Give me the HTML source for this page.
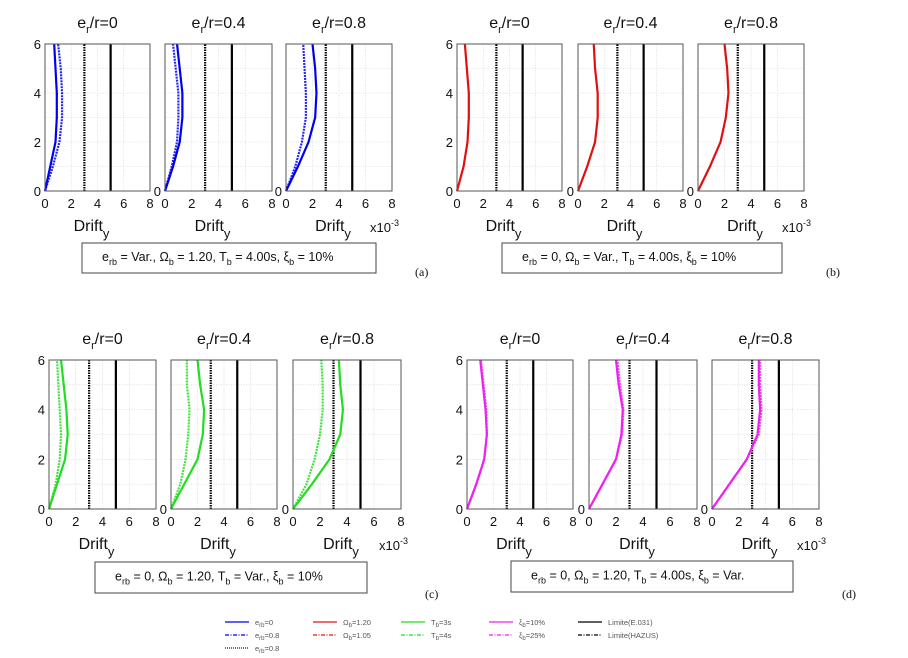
<!DOCTYPE html>
<html><head><meta charset="utf-8"><style>
body{margin:0;background:#fff;}
svg{display:block;font-family:"Liberation Sans",Arial,sans-serif;}
</style></head><body>
<svg id="fig" width="908" height="658" viewBox="0 0 908 658"></svg>
<script>
// data (drift x1e-3) at storey levels
const levels=[0,1,2,3,4,5,6];
const xTicks=[0,2,4,6,8];
const yTicks=[0,2,4,6];
const titles=["e_r/r=0","e_r/r=0.4","e_r/r=0.8"];
const limitE031=5;
const limitHAZUS=3;
const aSolid=[[0,0.4,0.8,0.9,0.9,0.8,0.7],[0,0.6,1.1,1.3,1.3,1.1,0.9],[0,0.9,1.7,2.2,2.3,2.2,2.0]];
const aDash=[[0,0.6,1.1,1.3,1.3,1.2,1.0],[0,0.5,0.9,1.0,1.0,0.8,0.6],[0,0.7,1.2,1.5,1.5,1.4,1.3]];
const bSolid=[[0,0.5,0.8,0.9,0.9,0.75,0.6],[0,0.7,1.3,1.5,1.5,1.3,1.2],[0,0.9,1.7,2.1,2.3,2.2,2.0]];
const cSolid=[[0,0.6,1.2,1.4,1.3,1.1,0.9],[0,1.0,2.0,2.4,2.5,2.2,2.0],[0,1.4,2.7,3.5,3.7,3.5,3.4]];
const cDash=[[0,0.5,0.8,0.9,0.8,0.7,0.6],[0,0.7,1.1,1.3,1.4,1.2,1.2],[0,1.0,1.6,2.0,2.2,2.2,2.1]];
const dSolid=[[0,0.7,1.3,1.5,1.4,1.2,1.0],[0,1.0,2.0,2.4,2.5,2.2,2.0],[0,1.3,2.6,3.4,3.6,3.5,3.5]];
const dDash=[[0,0.7,1.3,1.5,1.45,1.25,1.05],[0,1.0,2.0,2.45,2.55,2.3,2.1],[0,1.3,2.6,3.5,3.7,3.6,3.6]];

const NS="http://www.w3.org/2000/svg";
const svg=document.getElementById('fig');
function mk(tag,attrs,parent){const e=document.createElementNS(NS,tag);for(const k in attrs)e.setAttribute(k,attrs[k]);(parent||svg).appendChild(e);return e;}

const panels=[
 {id:'a',axX:[[45,150],[165,272],[286,392]],y0:191,y1:44,color:'#0000ee',solid:aSolid,dash:aDash,dashStyle:'2,1',
  box:[82,243,294,30],label:[415,276],caption:['e','rb',' = Var., Ω','b',' = 1.20, T','b',' = 4.00s, ξ','b',' = 10%']},
 {id:'b',axX:[[457,562],[578,683],[698,804]],y0:191,y1:44,color:'#e01010',solid:bSolid,dash:null,
  box:[502,243,280,30],label:[826,276],caption:['e','rb',' = 0, Ω','b',' = Var., T','b',' = 4.00s, ξ','b',' = 10%']},
 {id:'c',axX:[[49,156],[171,277],[293,401]],y0:509,y1:360,color:'#22dd22',solid:cSolid,dash:cDash,dashStyle:'2,1',
  box:[95,562,272,31],label:[425,598],caption:['e','rb',' = 0, Ω','b',' = 1.20, T','b',' = Var., ξ','b',' = 10%']},
 {id:'d',axX:[[467,573],[589,697],[712,819]],y0:509,y1:360,color:'#ee22ee',solid:dSolid,dash:dDash,dashStyle:'2,1',
  box:[511,561,282,31],label:[842,598],caption:['e','rb',' = 0, Ω','b',' = 1.20, T','b',' = 4.00s, ξ','b',' = Var.']}
];

panels.forEach(p=>{
 const g=mk('g',{});
 
 
 p.axX.forEach((ax,i)=>{
  const [xa,xb]=ax;
  const sx=v=>xa+(xb-xa)*v/8;
  const sy=v=>p.y0+(p.y1-p.y0)*v/6;
  const sg=mk('g',{},g);
  
  
  [2,4,6].forEach(v=>mk('line',{x1:sx(v),x2:sx(v),y1:sy(0),y2:sy(6),stroke:'#ccc','stroke-width':0.6,'stroke-dasharray':'1,1.5'},sg));
  [1,2,3,4,5].forEach(v=>mk('line',{x1:sx(0),x2:sx(8),y1:sy(v),y2:sy(v),stroke:'#ccc','stroke-width':0.6,'stroke-dasharray':'1,1.5'},sg));
  const lh=mk('line',{x1:sx(limitHAZUS),x2:sx(limitHAZUS),y1:sy(0),y2:sy(6),stroke:'#000','stroke-width':2.2,'stroke-dasharray':'1.5,1'},sg);
  
  const le=mk('line',{x1:sx(limitE031),x2:sx(limitE031),y1:sy(0),y2:sy(6),stroke:'#000','stroke-width':2.2},sg);
  
  if(p.dash){
   const pts=levels.map((l,k)=>sx(p.dash[i][k])+','+sy(l)).join(' ');
   const pl=mk('polyline',{points:pts,fill:'none',stroke:p.color,'stroke-width':2.2,'stroke-dasharray':p.dashStyle,opacity:0.85},sg);
   
  }
  const pts=levels.map((l,k)=>sx(p.solid[i][k])+','+sy(l)).join(' ');
  const pl=mk('polyline',{points:pts,fill:'none',stroke:p.color,'stroke-width':2.2},sg);
  
  mk('rect',{x:xa,y:p.y1,width:xb-xa,height:p.y0-p.y1,fill:'none',stroke:'#555','stroke-width':1},sg);
  xTicks.forEach(v=>{const t=mk('text',{x:sx(v),y:p.y0+17,'font-size':13,'text-anchor':'middle',fill:'#111'},sg);t.textContent=v;});
  if(i===0){yTicks.forEach(v=>{const t=mk('text',{x:xa-4,y:sy(v)+5,'font-size':13,'text-anchor':'end',fill:'#111'},sg);t.textContent=v;});}
  else{const t=mk('text',{x:xa-4,y:p.y0+5,'font-size':13,'text-anchor':'end',fill:'#111'},sg);t.textContent='0';}
  const tt=mk('text',{x:(xa+xb)/2,y:p.y1-16,'font-size':16,'text-anchor':'middle',fill:'#111'},sg);
  
  
  const lbl=titles[i].split('_r');
  tt.appendChild(document.createTextNode('e'));
  const s1=mk('tspan',{'font-size':11,dy:5},tt);s1.textContent='r';
  const s2=mk('tspan',{dy:-5},tt);s2.textContent=lbl[1];
  const xl=mk('text',{x:(xa+xb)/2-6,y:p.y0+40,'font-size':16,'text-anchor':'middle',fill:'#111'},sg);
  
  
  xl.appendChild(document.createTextNode('Drift'));
  const s3=mk('tspan',{'font-size':13,dy:7},xl);s3.textContent='y';
  if(i===2){
   const ex=mk('text',{x:xb-22,y:p.y0+41,'font-size':13,fill:'#111'},sg);
   
   ex.appendChild(document.createTextNode('x10'));
   const s4=mk('tspan',{'font-size':9,dy:-6},ex);s4.textContent='-3';
  }
 });
 const [bx,by,bw,bh]=p.box;
 const br=mk('rect',{x:bx,y:by,width:bw,height:bh,fill:'#fff',stroke:'#444','stroke-width':1},g);
 
 const ct=mk('text',{x:bx+20,y:by+bh/2+3,'font-size':12.5,fill:'#111'},g);
 
 
 p.caption.forEach((s,k)=>{const ts=mk('tspan',k%2===1?{'font-size':9,dy:4}:(k>0?{dy:-4}:{}),ct);ts.textContent=s;});
 const pl=mk('text',{x:p.label[0],y:p.label[1],'font-size':12,fill:'#111','font-family':'Liberation Serif,serif'},g);
 
 pl.textContent='('+p.id+')';
});

const legendCols=[
 {x:225,color:'#0000ee',items:[['e','rb','=0',null],['e','rb','=0.8','4,1.5,1,1.5'],['e','rb','=0.8','1,1']]},
 {x:313,color:'#e01010',items:[['Ω','b','=1.20',null],['Ω','b','=1.05','4,1.5,1,1.5']]},
 {x:401,color:'#22dd22',items:[['T','b','=3s',null],['T','b','=4s','4,1.5,1,1.5']]},
 {x:489,color:'#ee22ee',items:[['ξ','b','=10%',null],['ξ','b','=25%','4,1.5,1,1.5']]},
 {x:578,color:'#000',items:[['Limite(E.031)','','',null],['Limite(HAZUS)','','','4,1.5,1,1.5']]}
];
const lg=mk('g',{});


legendCols.forEach(c=>{
 c.items.forEach((it,r)=>{
  const y=622+r*13;
  const eg=mk('g',{},lg);
  
  
  const a={x1:c.x,x2:c.x+24,y1:y,y2:y,stroke:c.color,'stroke-width':1.2};
  if(it[3])a['stroke-dasharray']=it[3];
  mk('line',a,eg);
  const t=mk('text',{x:c.x+30,y:y+3,'font-size':7.5,fill:'#555'},eg);
  t.appendChild(document.createTextNode(it[0]));
  if(it[1]){const s=mk('tspan',{'font-size':6,dy:2},t);s.textContent=it[1];const s2=mk('tspan',{dy:-2},t);s2.textContent=it[2];}
 });
});
</script>
</body></html>
